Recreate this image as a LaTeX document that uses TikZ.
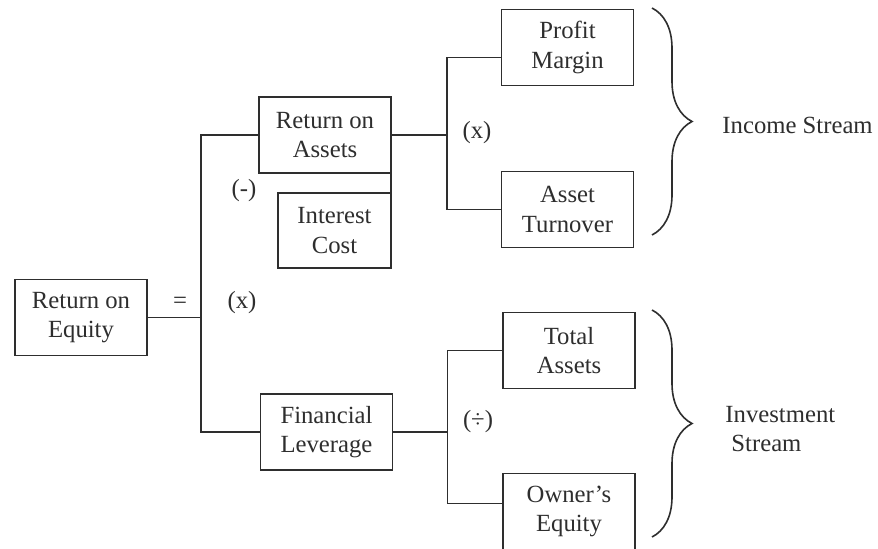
\documentclass[tikz,border=0pt]{standalone}
\usepackage{fontspec}
\setmainfont{Liberation Serif}
\usepackage{tikz}
\usetikzlibrary{positioning,decorations.pathreplacing}
\definecolor{ink}{HTML}{2E2E2E}

\begin{document}
\begin{tikzpicture}[x=0.5pt, y=-0.5pt, font=\fontsize{12.35}{14.8}\selectfont, color=ink, line width=0.8pt,
  box/.style={draw, line width=0.9pt, align=center, minimum width=66pt, minimum height=38pt, inner sep=2pt, outer sep=0pt},
  strm/.style={decorate, decoration={brace, amplitude=20pt}}]
\useasboundingbox (0,0) rectangle (878,549);
\node[box] (roe) at (81,317.5) {Return on\\Equity};
\node[box] (roa) at (325,135) {Return on\\Assets};
\node[box, minimum width=56.5pt, minimum height=37.5pt, below=10pt of roa.south east, anchor=north east] (ic) {Interest\\Cost};
\node[box] (fl) at (326.5,432) {Financial\\Leverage};
\node[box] (pm) at (567.5,47.5) {Profit\\Margin};
\node[box, below=43pt of pm] (at) {Asset\\Turnover};
\node[box] (ta) at (569,350.5) {Total\\Assets};
\node[box, below=42.5pt of ta] (oe) {Owner’s\\Equity};
% operators
\node (eq) at (180,303) {=};
\node (mul1) at (242,303) {(x)};
\node (sub) at (244,191) {(-)};
\node (mul2) at (477,133) {(x)};
\node (dv) at (478,422) {(÷)};
% streams
\node[anchor=west] (inc) at (715,125) {Income Stream};
\node[anchor=west, align=left] (inv) at (718,429) {Investment\\\hspace{3pt}Stream};
% connectors
\draw (roe.east) -- ++(27pt,0) coordinate (j1);
\draw (roa.west) -| (j1) |- (fl.west);
\draw (roa.south east) -- (ic.north east);
\draw (roa.east) -- ++(28pt,0) coordinate (j2);
\draw ([yshift=-5pt]pm.west) -| (j2) |- (at.west);
\draw (fl.east) -- ++(27.5pt,0) coordinate (j3);
\draw (ta.west) -| (j3) |- ([yshift=4pt]oe.west);
\draw[strm] (652,8) -- (652,235);
\draw[strm] (652,310) -- (652,537);
\end{tikzpicture}
\end{document}
